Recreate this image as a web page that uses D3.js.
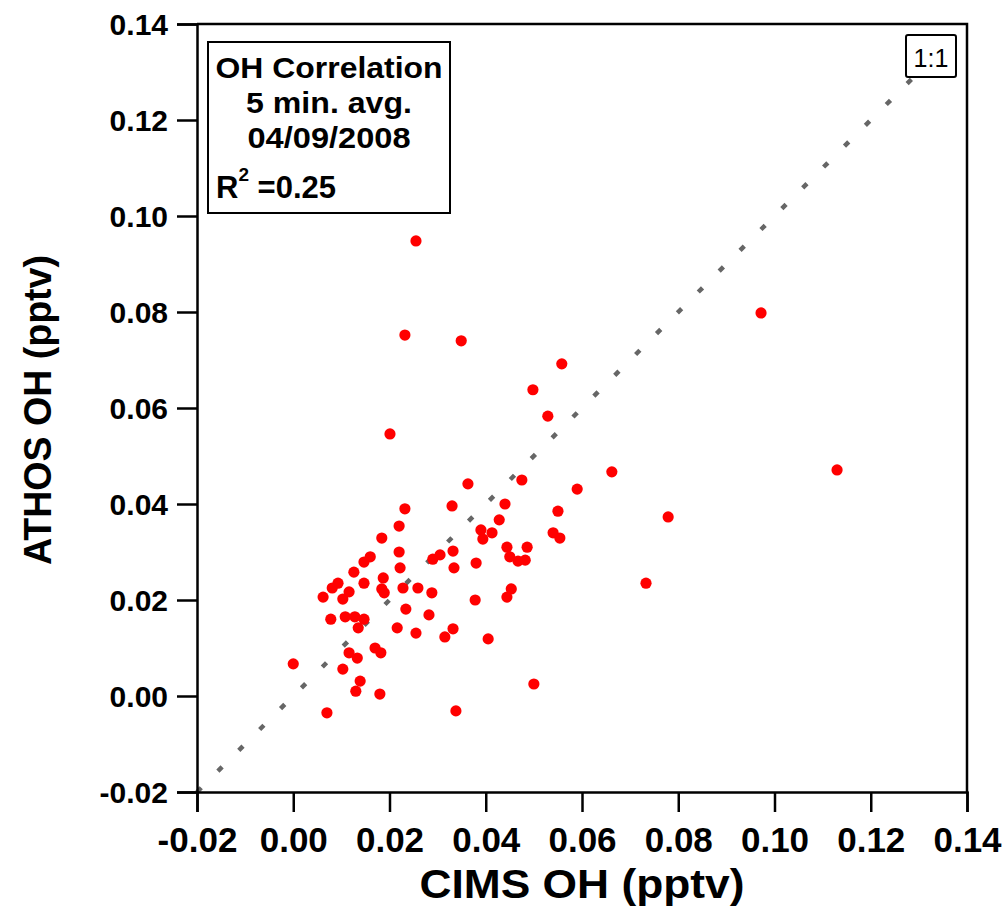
<!DOCTYPE html>
<html><head><meta charset="utf-8">
<script src="https://cdn.jsdelivr.net/npm/d3@7"></script>
<style>body{margin:0;background:#fff}svg{display:block}</style>
</head><body>
<svg id="c" width="1004" height="912"></svg>
<script>
const cimsOH = [0.0255,0.0232,0.0349,0.0972,0.0558,0.0498,0.0529,0.0201,0.1130,0.0662,0.0363,0.0475,0.0590,0.0779,0.0550,0.0440,0.0330,0.0232,0.0428,0.0390,0.0413,0.0394,0.0540,0.0554,0.0444,0.0486,0.0450,0.0467,0.0482,0.0332,0.0305,0.0290,0.0334,0.0380,0.0220,0.0184,0.0220,0.0160,0.0147,0.0222,0.0126,0.0187,0.0147,0.0093,0.0081,0.0228,0.0259,0.0184,0.0189,0.0288,0.0116,0.0103,0.0062,0.0234,0.0078,0.0108,0.0128,0.0147,0.0135,0.0282,0.0216,0.0255,0.0332,0.0315,0.0170,0.0182,0.0116,0.0133,0.0000,0.0103,0.0139,0.0130,0.0180,0.0070,0.0338,0.0500,0.0733,0.0378,0.0405,0.0453,0.0444];
const athosOH = [0.0948,0.0752,0.0740,0.0798,0.0692,0.0638,0.0583,0.0546,0.0471,0.0467,0.0442,0.0450,0.0431,0.0373,0.0385,0.0400,0.0396,0.0390,0.0367,0.0346,0.0340,0.0327,0.0340,0.0329,0.0310,0.0310,0.0290,0.0281,0.0283,0.0302,0.0294,0.0285,0.0267,0.0277,0.0354,0.0329,0.0300,0.0290,0.0279,0.0267,0.0258,0.0246,0.0235,0.0235,0.0225,0.0225,0.0225,0.0223,0.0215,0.0215,0.0217,0.0202,0.0206,0.0181,0.0160,0.0165,0.0165,0.0160,0.0142,0.0169,0.0142,0.0131,0.0140,0.0123,0.0100,0.0090,0.0090,0.0079,0.0067,0.0056,0.0031,0.0010,0.0004,-0.0035,-0.0031,0.0025,0.0235,0.0200,0.0119,0.0223,0.0206];
const xTicks = [-0.02,0.00,0.02,0.04,0.06,0.08,0.10,0.12,0.14];
const yTicks = [-0.02,0.00,0.02,0.04,0.06,0.08,0.10,0.12,0.14];
const infoLines = ["OH Correlation","5 min. avg.","04/09/2008"];
const rSquared = "0.25";
const xTitle = "CIMS OH (pptv)";
const yTitle = "ATHOS OH (pptv)";
const refLabel = "1:1";

const svg = d3.select("#c");
const L=197, R=967, T=24, B=792;
const x = d3.scaleLinear().domain([-0.02,0.14]).range([L,R]);
const y = d3.scaleLinear().domain([-0.02,0.14]).range([B,T]);
const FONT = "'Liberation Sans', Arial, sans-serif";

// 1:1 line
svg.append("line")
  .attr("x1",x(-0.02)).attr("y1",y(-0.02)).attr("x2",x(0.14)).attr("y2",y(0.14))
  .attr("stroke","#666").attr("stroke-width",4.5).attr("stroke-dasharray","6,23.5");

// points
svg.append("g").selectAll("circle").data(cimsOH.map((v,i)=>[v,athosOH[i]])).join("circle")
  .attr("cx",d=>x(d[0])).attr("cy",d=>y(d[1])).attr("r",5.6).attr("fill","#ff0000");

// axes
const fmt = d=>d3.format(".2f")(d).replace("−","-");
const xAxis = d3.axisBottom(x).tickValues(xTicks).tickFormat(fmt).tickSize(20).tickPadding(8);
const yAxis = d3.axisLeft(y).tickValues(yTicks).tickFormat(fmt).tickSize(20).tickPadding(9);
const gx = svg.append("g").attr("transform",`translate(0,${B})`).call(xAxis);
const gy = svg.append("g").attr("transform",`translate(${L},0)`).call(yAxis);
[gx,gy].forEach(g=>{
  g.select(".domain").attr("stroke","#000").attr("stroke-width",2.5);
  g.selectAll(".tick line").attr("stroke","#000").attr("stroke-width",2.5);
  g.selectAll(".tick text").attr("fill","#000").attr("font-family",FONT).attr("font-weight","bold");
});
gx.selectAll(".tick text").attr("font-size",35).attr("dy","0.9em");
gy.selectAll(".tick text").attr("font-size",30).attr("dy","0.36em");
// frame top/right
svg.append("path").attr("d",`M${L},${T}H${R}V${B}`).attr("fill","none").attr("stroke","#000").attr("stroke-width",2.5);

// titles
svg.append("text").attr("x",(L+R)/2).attr("y",898).attr("text-anchor","middle")
  .attr("font-family",FONT).attr("font-weight","bold").attr("font-size",41)
  .attr("textLength",325).attr("lengthAdjust","spacingAndGlyphs").text(xTitle);
svg.append("text").attr("transform","translate(51,410) rotate(-90)").attr("text-anchor","middle")
  .attr("font-family",FONT).attr("font-weight","bold").attr("font-size",38)
  .attr("textLength",310).attr("lengthAdjust","spacingAndGlyphs").text(yTitle);

// info box
svg.append("rect").attr("x",208).attr("y",42).attr("width",242).attr("height",171)
  .attr("fill","#fff").attr("stroke","#000").attr("stroke-width",2);
const base=[78,113,148];
const widths=[227,166,163];
infoLines.forEach((t,i)=>svg.append("text").attr("x",329).attr("y",base[i]).attr("text-anchor","middle")
  .attr("font-family",FONT).attr("font-weight","bold").attr("font-size",30)
  .attr("textLength",widths[i]).attr("lengthAdjust","spacingAndGlyphs").text(t));
const rt = svg.append("text").attr("x",216).attr("y",198).attr("font-family",FONT).attr("font-weight","bold").attr("font-size",31);
rt.append("tspan").text("R");
rt.append("tspan").attr("font-size",19).attr("dy",-17).text("2");
rt.append("tspan").attr("dy",17).text(" =" + rSquared);

// 1:1 label
svg.append("rect").attr("x",906).attr("y",35).attr("width",50).attr("height",42).attr("rx",2)
  .attr("fill","#fff").attr("stroke","#000").attr("stroke-width",2);
svg.append("text").attr("x",931).attr("y",67).attr("text-anchor","middle")
  .attr("font-family",FONT).attr("font-size",25).text(refLabel);
</script>
</body></html>
